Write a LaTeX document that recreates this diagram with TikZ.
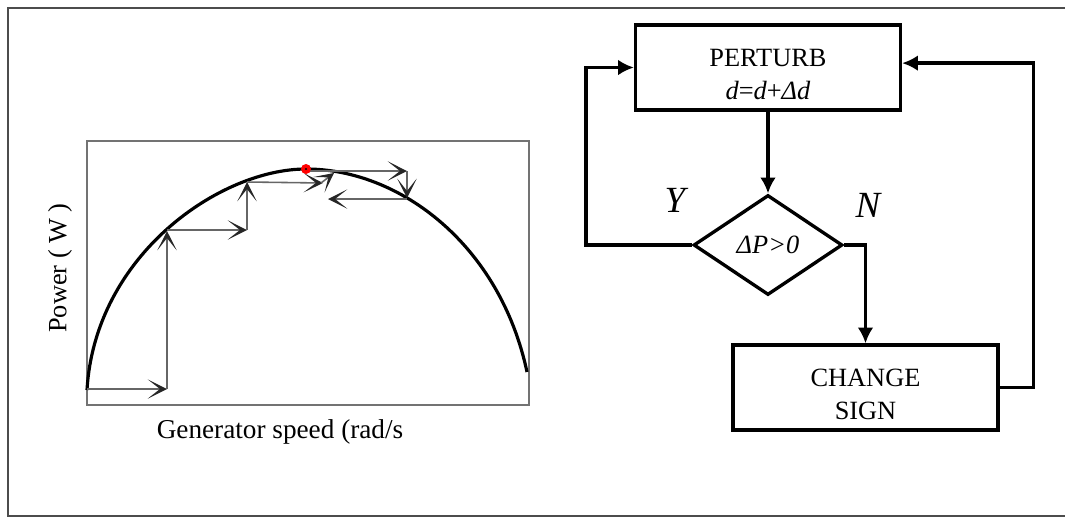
\documentclass[tikz,border=0pt]{standalone}
\usepackage{fontspec}
\setmainfont{Liberation Serif}
\usepackage{tikz}
\usetikzlibrary{shapes.geometric,arrows.meta}
\tikzset{
  blockbox/.style={draw,line width=1.9pt,minimum width=5.3cm,minimum height=1.7cm,align=center,font=\fontsize{15}{19}\selectfont},
  decbox/.style={draw,diamond,line width=1.9pt,minimum width=2.98cm,minimum height=2cm,inner sep=0pt,font=\fontsize{15}{18}\selectfont\itshape},
  flow/.style={line width=1.9pt,-{Latex[length=9pt,width=9pt]}},
  stepline/.style={black!60,line width=0.9pt,-{Stealth[length=11pt,width=11pt,inset=7pt,black!85]}},
  yn/.style={font=\fontsize{21}{24}\selectfont\itshape}
}
\begin{document}
\begin{tikzpicture}[x=0.02cm,y=-0.02cm]
\def\lw{1.8pt}
\useasboundingbox (0,0) rectangle (1065,518);
\draw[black!70,line width=1.5pt] (1065,8) -- (8,8) -- (8,516) -- (1065,516);
% power curve
\draw[black!55,line width=0.8pt] (87,141) rectangle (529,405);
\draw[line width=\lw] (87,390) .. controls (95,255) and (220,169) .. (306,169)
  .. controls (400,169) and (500,245) .. (527,372);
\draw[stepline] (87,389) -- (167,389);
\draw[stepline] (167,389) -- (167,231);
\draw[stepline] (167,230) -- (247,230);
\draw[stepline] (247,230) -- (247,182);
\draw[stepline] (247,182) -- (323,183);
\draw[stepline] (321,183) -- (334,173);
\draw[stepline] (306,171) -- (407,171);
\draw[stepline] (407,171) -- (407,198);
\draw[stepline] (407,199) -- (328,199);
\fill[red] (306,169) circle (5);
\fill[black] (306,169) circle (1.2);
\node[rotate=90,font=\fontsize{15}{18}\selectfont] (pw) at (60,268) {Power ( W )};
\node[font=\fontsize{15.5}{18}\selectfont] (gs) at (280,432) {Generator speed (rad/s};
% flow chart
\node[blockbox] (perturb) at (768,67.5) {\rule{0pt}{18pt}PERTURB\\{\itshape d}={\itshape d}+{\itshape Δd}};
\node[decbox] (dec) at (768,245) {ΔP>0};
\node[blockbox] (change) at (865.5,387.5) {\rule{0pt}{18pt}CHANGE\\SIGN};
\node[yn] (yes) at (675,200) {Y};
\node[yn] (no) at (868,205) {N};
\draw[flow] (perturb.south) -- (dec.north);
\draw[flow] (dec.west) -- ++(-106,0) |- (perturb.west);
\draw[flow] (dec.east) -| (change.north);
\draw[flow] (change.east) -- ++(34,0) |- ([yshift=2.5pt]perturb.east);
\end{tikzpicture}
\end{document}
